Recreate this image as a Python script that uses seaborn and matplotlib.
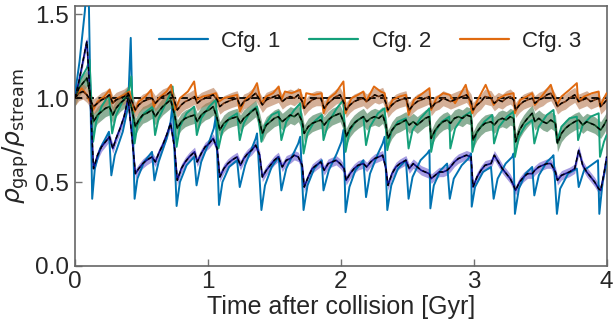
import matplotlib
matplotlib.use("Agg")
import matplotlib.pyplot as plt
import seaborn as sns
import numpy as np

# ---------------- data ----------------
labels = ["Cfg. 1", "Cfg. 2", "Cfg. 3"]

# Cfg. 1 model line
t1 = [0.0, 0.035, 0.075, 0.10, 0.13, 0.15, 0.19, 0.256, 0.274, 0.30, 0.36, 0.40, 0.42, 0.449,
      0.47, 0.52, 0.58, 0.598, 0.63, 0.69, 0.72, 0.735, 0.765, 0.79, 0.84, 0.897, 0.915, 0.95,
      1.01, 1.045, 1.06, 1.084, 1.11, 1.16, 1.22, 1.24, 1.28, 1.33, 1.36, 1.37, 1.403, 1.43,
      1.48, 1.533, 1.553, 1.59, 1.65, 1.68, 1.695, 1.72, 1.75, 1.80, 1.857, 1.87, 1.91, 1.97,
      2.005, 2.02, 2.036, 2.065, 2.11, 2.17, 2.19, 2.22, 2.28, 2.315, 2.33, 2.35, 2.38, 2.43,
      2.49, 2.51, 2.54, 2.60, 2.65, 2.667, 2.674, 2.70, 2.75, 2.80, 2.82, 2.85, 2.91, 2.96,
      2.98, 2.985, 3.01, 3.07, 3.13, 3.15, 3.18, 3.24, 3.29, 3.30, 3.31, 3.34, 3.39, 3.44,
      3.456, 3.49, 3.55, 3.59, 3.60, 3.626, 3.65, 3.71, 3.776, 3.79, 3.83, 3.90, 3.935, 3.945,
      3.97, 4.0]
v1 = [1.02, 1.22, 1.52, 1.8, 0.40, 0.58, 0.70, 0.80, 0.54, 0.66, 0.80, 0.95, 1.36, 0.40,
      0.52, 0.62, 0.68, 0.51, 0.62, 0.76, 0.86, 0.97, 0.357, 0.50, 0.60, 0.65, 0.48, 0.62,
      0.74, 0.82, 0.89, 0.363, 0.50, 0.59, 0.63, 0.47, 0.60, 0.70, 0.76, 0.79, 0.333, 0.48,
      0.59, 0.65, 0.45, 0.58, 0.68, 0.73, 0.77, 0.333, 0.48, 0.58, 0.63, 0.45, 0.57, 0.67,
      0.74, 0.81, 0.32, 0.47, 0.57, 0.63, 0.41, 0.55, 0.67, 0.73, 0.77, 0.333, 0.48, 0.58,
      0.63, 0.40, 0.53, 0.63, 0.67, 0.69, 0.343, 0.48, 0.57, 0.61, 0.40, 0.52, 0.60, 0.64,
      0.67, 0.353, 0.47, 0.56, 0.59, 0.40, 0.52, 0.61, 0.65, 0.67, 0.31, 0.46, 0.55, 0.59,
      0.42, 0.54, 0.62, 0.65, 0.66, 0.31, 0.46, 0.55, 0.58, 0.47, 0.57, 0.61, 0.63, 0.31,
      0.50, 0.62]

# Cfg. 2 model line
t2 = [0.0, 0.04, 0.09, 0.11, 0.137, 0.16, 0.20, 0.256, 0.28, 0.31, 0.37, 0.41, 0.424, 0.449,
      0.47, 0.52, 0.585, 0.603, 0.63, 0.69, 0.72, 0.735, 0.765, 0.79, 0.84, 0.897, 0.917, 0.95,
      1.01, 1.06, 1.08, 1.11, 1.16, 1.22, 1.24, 1.27, 1.32, 1.37, 1.403, 1.43, 1.48, 1.533,
      1.553, 1.59, 1.65, 1.695, 1.72, 1.75, 1.80, 1.857, 1.87, 1.91, 1.97, 2.02, 2.036, 2.065,
      2.11, 2.17, 2.19, 2.22, 2.28, 2.33, 2.35, 2.38, 2.43, 2.49, 2.51, 2.54, 2.60, 2.667,
      2.68, 2.71, 2.76, 2.816, 2.824, 2.86, 2.92, 2.98, 2.99, 3.02, 3.08, 3.14, 3.153, 3.19,
      3.25, 3.30, 3.31, 3.34, 3.39, 3.44, 3.456, 3.49, 3.55, 3.60, 3.626, 3.66, 3.72, 3.776,
      3.785, 3.82, 3.88, 3.94, 3.95, 3.98, 4.0]
v2 = [1.0, 1.11, 1.18, 1.23, 0.74, 0.86, 0.95, 1.02, 0.79, 0.90, 1.0, 1.06, 1.13, 0.73,
      0.84, 0.91, 0.95, 0.78, 0.88, 0.98, 1.03, 1.07, 0.71, 0.83, 0.91, 0.95, 0.78, 0.88,
      0.95, 0.99, 0.70, 0.81, 0.88, 0.91, 0.75, 0.85, 0.92, 0.95, 0.74, 0.84, 0.90, 0.92,
      0.75, 0.86, 0.93, 0.97, 0.67, 0.79, 0.86, 0.90, 0.75, 0.86, 0.94, 0.99, 0.68, 0.80,
      0.86, 0.89, 0.72, 0.83, 0.91, 0.94, 0.69, 0.80, 0.86, 0.88, 0.70, 0.81, 0.88, 0.94,
      0.68, 0.80, 0.86, 0.89, 0.70, 0.82, 0.89, 0.92, 0.68, 0.79, 0.86, 0.90, 0.73, 0.83,
      0.89, 0.92, 0.65, 0.77, 0.84, 0.87, 0.73, 0.83, 0.90, 0.93, 0.74, 0.83, 0.88, 0.89,
      0.75, 0.84, 0.89, 0.91, 0.65, 0.74, 0.78]

# Cfg. 3 model line
t3 = [0.0, 0.05, 0.09, 0.137, 0.17, 0.22, 0.262, 0.28, 0.32, 0.37, 0.41, 0.449, 0.48, 0.53,
      0.573, 0.593, 0.63, 0.69, 0.723, 0.755, 0.79, 0.85, 0.897, 0.915, 0.96, 1.02, 1.06,
      1.084, 1.12, 1.17, 1.22, 1.24, 1.28, 1.33, 1.37, 1.40, 1.44, 1.49, 1.533, 1.553, 1.58,
      1.63, 1.695, 1.72, 1.74, 1.80, 1.857, 1.87, 1.91, 1.96, 2.02, 2.036, 2.08, 2.13, 2.17,
      2.19, 2.25, 2.30, 2.33, 2.35, 2.39, 2.44, 2.49, 2.51, 2.55, 2.60, 2.667, 2.68, 2.72,
      2.77, 2.82, 2.86, 2.94, 2.99, 3.03, 3.09, 3.15, 3.19, 3.24, 3.30, 3.31, 3.35, 3.40,
      3.44, 3.46, 3.52, 3.58, 3.626, 3.66, 3.72, 3.776, 3.785, 3.83, 3.89, 3.94, 3.95, 3.98,
      4.0]
v3 = [1.0, 1.06, 1.02, 0.93, 0.98, 1.01, 1.05, 0.97, 1.00, 1.02, 1.04, 0.92, 0.98, 1.01,
      1.05, 0.95, 1.00, 1.04, 1.08, 0.93, 1.00, 1.04, 1.10, 0.99, 1.01, 1.02, 1.03,
      0.98, 1.00, 1.01, 1.02, 0.92, 0.99, 1.03, 1.09, 0.97, 1.01, 1.03, 1.07, 0.99, 1.04,
      1.03, 1.05, 0.94, 1.03, 1.02, 1.03, 0.91, 1.00, 1.03, 1.10, 0.91, 1.00, 1.02, 1.04,
      0.98, 1.07, 1.04, 1.03, 0.92, 0.99, 1.01, 1.02, 0.90, 0.99, 1.02, 1.06, 0.93, 1.00,
      1.03, 1.02, 0.97, 1.08, 0.91, 0.99, 1.08, 0.96, 1.00, 1.02, 1.03, 0.91, 0.99, 1.01,
      1.03, 0.96, 1.02, 1.08, 0.96, 1.01, 1.05, 1.09, 0.98, 1.01, 1.03, 1.04, 0.95, 1.00,
      1.03]

# simulation medians (shared time grid)
tm = [0.0, 0.03, 0.06, 0.09, 0.115,
      0.14, 0.17, 0.20, 0.23, 0.26,
      0.285, 0.31, 0.34, 0.37, 0.40, 0.43,
      0.455, 0.48, 0.51, 0.54, 0.58,
      0.605, 0.63, 0.66, 0.69, 0.72, 0.75,
      0.77, 0.80, 0.83, 0.86, 0.90,
      0.92, 0.95, 0.98, 1.01, 1.04, 1.07,
      1.09, 1.12, 1.15, 1.18, 1.22,
      1.245, 1.27, 1.30, 1.33, 1.36, 1.39,
      1.41, 1.44, 1.47, 1.50, 1.53,
      1.56, 1.59, 1.62, 1.65, 1.68, 1.71,
      1.725, 1.755, 1.785, 1.815, 1.85,
      1.875, 1.905, 1.935, 1.965, 1.995, 2.025,
      2.04, 2.07, 2.10, 2.13, 2.17,
      2.195, 2.225, 2.255, 2.285, 2.315, 2.34,
      2.355, 2.385, 2.415, 2.445, 2.49,
      2.515, 2.545, 2.575, 2.605, 2.635, 2.665,
      2.68, 2.71, 2.74, 2.77, 2.80,
      2.825, 2.855, 2.885, 2.915, 2.945, 2.98,
      2.995, 3.025, 3.055, 3.085, 3.13,
      3.155, 3.185, 3.215, 3.245, 3.275, 3.30,
      3.315, 3.345, 3.375, 3.405, 3.44,
      3.46, 3.49, 3.52, 3.55, 3.58, 3.615,
      3.63, 3.66, 3.69, 3.72, 3.76,
      3.79, 3.82, 3.85, 3.88, 3.91, 3.94,
      3.955, 3.98, 4.0]
m1 = [1.0, 1.10, 1.22, 1.34, 1.0,
      0.58, 0.66, 0.71, 0.74, 0.77,
      0.70, 0.76, 0.82, 0.89, 1.0, 0.76,
      0.55, 0.58, 0.61, 0.63, 0.65,
      0.62, 0.67, 0.72, 0.78, 0.85, 0.70,
      0.51, 0.58, 0.62, 0.65, 0.68,
      0.62, 0.67, 0.71, 0.73, 0.76, 0.70,
      0.53, 0.58, 0.61, 0.63, 0.65,
      0.60, 0.64, 0.67, 0.69, 0.72, 0.66,
      0.53, 0.57, 0.60, 0.63, 0.65,
      0.59, 0.63, 0.64, 0.66, 0.65, 0.60,
      0.47, 0.53, 0.58, 0.60, 0.62,
      0.57, 0.61, 0.62, 0.63, 0.61, 0.58,
      0.51, 0.55, 0.58, 0.60, 0.61,
      0.59, 0.62, 0.64, 0.65, 0.66, 0.58,
      0.48, 0.55, 0.59, 0.61, 0.63,
      0.58, 0.61, 0.59, 0.57, 0.56, 0.55,
      0.52, 0.54, 0.56, 0.56, 0.57,
      0.59, 0.62, 0.64, 0.65, 0.66, 0.65,
      0.47, 0.53, 0.57, 0.60, 0.61,
      0.66, 0.62, 0.58, 0.55, 0.52, 0.48,
      0.45, 0.50, 0.53, 0.55, 0.55,
      0.57, 0.59, 0.60, 0.61, 0.61, 0.56,
      0.51, 0.54, 0.55, 0.56, 0.58,
      0.69, 0.60, 0.56, 0.53, 0.50, 0.46,
      0.45, 0.55, 0.65]
m2 = [1.0, 1.06, 1.09, 1.12, 1.02,
      0.86, 0.90, 0.92, 0.94, 0.95,
      0.90, 0.94, 0.97, 0.99, 1.02, 0.93,
      0.83, 0.87, 0.90, 0.91, 0.93,
      0.89, 0.92, 0.95, 0.97, 0.99, 0.90,
      0.82, 0.86, 0.88, 0.89, 0.90,
      0.86, 0.90, 0.92, 0.93, 0.95, 0.88,
      0.81, 0.85, 0.87, 0.88, 0.89,
      0.85, 0.88, 0.90, 0.92, 0.94, 0.86,
      0.79, 0.84, 0.86, 0.88, 0.89,
      0.86, 0.88, 0.90, 0.89, 0.91, 0.86,
      0.79, 0.83, 0.85, 0.86, 0.87,
      0.84, 0.87, 0.89, 0.90, 0.91, 0.85,
      0.77, 0.82, 0.85, 0.87, 0.89,
      0.86, 0.88, 0.89, 0.88, 0.90, 0.84,
      0.76, 0.81, 0.84, 0.85, 0.87,
      0.84, 0.86, 0.84, 0.86, 0.88, 0.89,
      0.76, 0.81, 0.84, 0.86, 0.87,
      0.85, 0.88, 0.89, 0.88, 0.90, 0.89,
      0.75, 0.80, 0.83, 0.85, 0.86,
      0.84, 0.87, 0.88, 0.87, 0.89, 0.88,
      0.74, 0.81, 0.85, 0.88, 0.91,
      0.86, 0.88, 0.86, 0.85, 0.87, 0.85,
      0.73, 0.79, 0.82, 0.84, 0.86,
      0.87, 0.84, 0.86, 0.85, 0.84, 0.82,
      0.81, 0.84, 0.87]
m3 = [1.0, 1.03, 1.04, 1.02, 0.99,
      0.95, 0.97, 0.99, 1.00, 1.02,
      0.97, 0.99, 1.00, 1.01, 1.03, 0.98,
      0.93, 0.96, 0.98, 0.99, 1.00,
      0.97, 0.99, 1.01, 1.02, 1.04, 0.98,
      0.93, 0.96, 0.98, 0.99, 1.01,
      0.97, 0.99, 1.00, 1.01, 1.02, 0.99,
      0.95, 0.97, 0.98, 0.99, 1.00,
      0.95, 0.98, 0.99, 1.01, 1.03, 0.99,
      0.96, 0.99, 1.00, 1.01, 1.02,
      0.98, 1.00, 1.01, 1.00, 1.02, 0.98,
      0.94, 0.97, 0.99, 1.00, 1.00,
      0.94, 0.97, 0.99, 1.01, 1.02, 0.97,
      0.93, 0.96, 0.98, 0.99, 1.00,
      0.98, 1.00, 1.02, 1.01, 1.02, 0.97,
      0.93, 0.96, 0.98, 0.99, 1.00,
      0.93, 0.96, 0.98, 0.99, 1.00, 1.01,
      0.94, 0.97, 0.98, 1.00, 0.99,
      0.98, 0.99, 1.00, 1.01, 1.02, 0.98,
      0.93, 0.96, 0.98, 1.01, 1.00,
      0.97, 0.99, 0.98, 1.00, 1.01, 0.99,
      0.93, 0.96, 0.98, 0.99, 1.00,
      0.97, 0.99, 1.00, 1.02, 1.03, 0.98,
      0.95, 0.97, 0.98, 1.00, 1.02,
      0.98, 0.99, 1.00, 0.98, 0.99, 1.00,
      0.95, 0.97, 0.99]
# half-width of the shaded spread around each median
spread = [0.028, 0.05, 0.045]

# ---------------- style ----------------
sns.set_theme(style="ticks")
plt.rcParams["font.family"] = ["Liberation Sans", "DejaVu Sans"]
plt.rcParams["mathtext.fontset"] = "dejavusans"

line_colors = ["#0173b2", "#14a07a", "#e06a10"]
med_colors = ["#10108a", "#0f4a22", "#6e3210"]
band_colors = ["#6a5acd", "#3f7a52", "#b87a52"]

fig, ax = plt.subplots(figsize=(6.14, 3.25), dpi=100)
fig.subplots_adjust(left=0.122, right=0.988, bottom=0.182, top=0.9815)

meds = [m1, m2, m3]
tm_a = np.array(tm)
for m, c, sp in zip(meds, band_colors, spread):
    m_a = np.array(m)
    ax.fill_between(tm_a, m_a - sp, m_a + sp, color=c, alpha=0.6, lw=0, zorder=1)

ax.axhline(1.0, color="black", ls=(0, (4, 2.5)), lw=1.3, zorder=2)

for t, v, c, lab in zip([t1, t2, t3], [v1, v2, v3], line_colors, labels):
    sns.lineplot(x=t, y=v, color=c, lw=1.4, label=lab, sort=False,
                 estimator=None, ax=ax, zorder=3)

for m, c in zip(meds, med_colors):
    sns.lineplot(x=tm, y=m, color=c, lw=1.2, sort=False, estimator=None,
                 ax=ax, zorder=4)
    sns.lineplot(x=tm, y=m, color="black", lw=1.0, ls=(0, (3, 2.5)), sort=False,
                 estimator=None, ax=ax, zorder=5)

ax.set_xlim(0, 4)
ax.set_ylim(0, 1.55)
ax.set_xticks([0, 1, 2, 3, 4])
ax.set_yticks([0.0, 0.5, 1.0, 1.5])
ax.set_yticklabels(["0.0", "0.5", "1.0", "1.5"])
ax.set_xlabel("Time after collision [Gyr]", fontsize=18, color="0.15", labelpad=1)
ax.set_ylabel(r"$\rho_{\rm gap}/\rho_{\rm stream}$", fontsize=18, color="0.15", labelpad=3)
ax.tick_params(axis="both", direction="in", length=5, width=1, color="0.45",
               labelcolor="0.15", labelsize=17.5, pad=4)
for s in ax.spines.values():
    s.set_visible(True)
    s.set_color("0.4")
    s.set_linewidth(1.2)

leg = ax.legend(loc="upper right", ncol=3, frameon=False, fontsize=16,
                handlelength=2.2, columnspacing=1.3, handletextpad=0.6,
                bbox_to_anchor=(0.99, 0.98))
for h in leg.get_lines():
    h.set_linewidth(1.6)

fig.savefig("out.png", dpi=100)
